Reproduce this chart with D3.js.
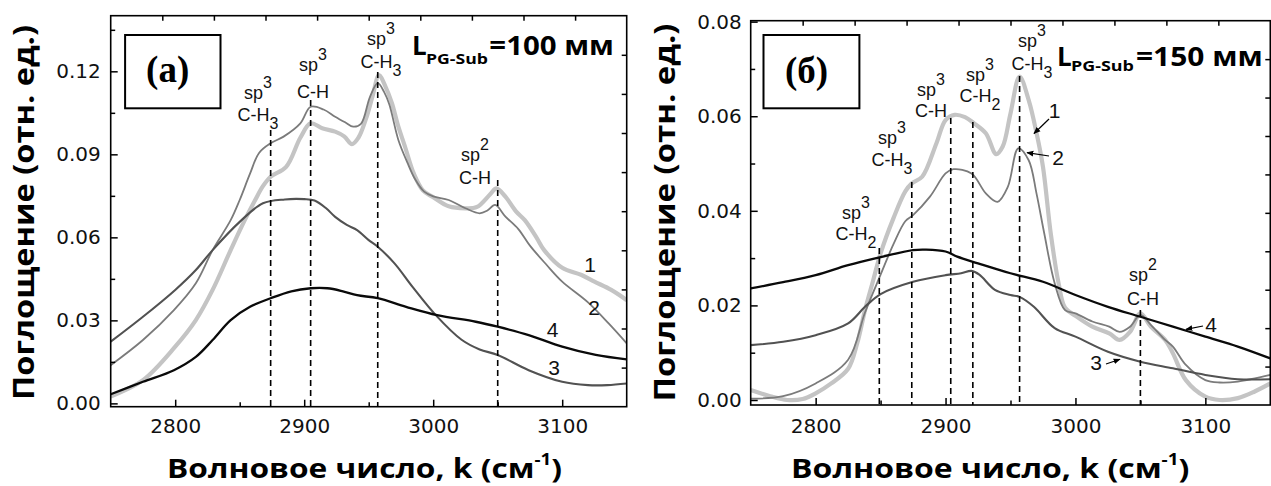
<!DOCTYPE html>
<html>
<head>
<meta charset="utf-8">
<script src="https://cdn.jsdelivr.net/npm/d3@7"></script>
<style>
  body { margin: 0; background: #fff; }
  svg { display: block; }
</style>
</head>
<body>
<svg id="chart" width="1271" height="486"></svg>
<script>
// ---- axis ticks ----
const kTicks = [2800, 2900, 3000, 3100];
const kMinorTicks = [2850, 2950, 3050];
const absTicksA = [0, 0.03, 0.06, 0.09, 0.12];
const absMinorA = [0.015, 0.045, 0.075, 0.105, 0.135];
const absTicksB = [0, 0.02, 0.04, 0.06, 0.08];
const absMinorB = [0.01, 0.03, 0.05, 0.07];

// ---- panel (a): L(PG-Sub) = 100 mm ----
const aK1 = [2750, 2775, 2800, 2816, 2829, 2843, 2854, 2862, 2868, 2874, 2886, 2897, 2905, 2914, 2924, 2931, 2937, 2942, 2948, 2953, 2958, 2963, 2968, 2973, 2978, 2985, 2992, 3000, 3012, 3025, 3034, 3044, 3049, 3056, 3064, 3071, 3080, 3086, 3100, 3115, 3125, 3138, 3150];
const aA1 = [0.0025, 0.0084, 0.0205, 0.0301, 0.041, 0.0554, 0.0663, 0.0735, 0.0785, 0.0819, 0.0855, 0.096, 0.1012, 0.0994, 0.0982, 0.0965, 0.0937, 0.096, 0.103, 0.111, 0.1186, 0.1145, 0.1085, 0.100, 0.093, 0.083, 0.077, 0.0745, 0.0712, 0.0705, 0.071, 0.0755, 0.0777, 0.0747, 0.0695, 0.0662, 0.060, 0.0554, 0.049, 0.0464, 0.044, 0.041, 0.0373];
const aK2 = [2750, 2775, 2799, 2816, 2829, 2843, 2850, 2858, 2865, 2874, 2884, 2897, 2905, 2915, 2924, 2932, 2938, 2944, 2951, 2957, 2962, 2966, 2973, 2980, 2986, 2993, 3000, 3012, 3025, 3036, 3042, 3048, 3056, 3066, 3075, 3088, 3100, 3120, 3136, 3150];
const aA2 = [0.0138, 0.0229, 0.0337, 0.0434, 0.0554, 0.0662, 0.0735, 0.083, 0.0905, 0.094, 0.0964, 0.1012, 0.1072, 0.1062, 0.1036, 0.1015, 0.1, 0.101, 0.1108, 0.1157, 0.1125, 0.108, 0.0952, 0.087, 0.081, 0.0765, 0.0748, 0.0735, 0.0705, 0.0687, 0.0697, 0.0717, 0.0675, 0.063, 0.057, 0.05, 0.044, 0.0365, 0.0289, 0.0217];
const aK3 = [2750, 2775, 2800, 2816, 2829, 2850, 2868, 2885, 2900, 2908, 2917, 2924, 2933, 2941, 2950, 2957, 2970, 2984, 3002, 3022, 3036, 3050, 3074, 3100, 3120, 3135, 3150];
const aA3 = [0.0223, 0.0313, 0.041, 0.0482, 0.0554, 0.0656, 0.0723, 0.0737, 0.0738, 0.0733, 0.0705, 0.0674, 0.0645, 0.0626, 0.059, 0.0566, 0.0506, 0.0421, 0.0319, 0.023, 0.0195, 0.0175, 0.012, 0.0078, 0.0066, 0.0066, 0.0072];
const aK4 = [2750, 2775, 2799, 2816, 2829, 2843, 2858, 2874, 2890, 2905, 2918, 2930, 2941, 2957, 2979, 3003, 3033, 3050, 3074, 3100, 3126, 3150];
const aA4 = [0.0033, 0.0078, 0.012, 0.0168, 0.0229, 0.0301, 0.0349, 0.038, 0.0405, 0.0416, 0.0416, 0.0405, 0.0391, 0.038, 0.0349, 0.0319, 0.0295, 0.0277, 0.0247, 0.0205, 0.0175, 0.0159];

// band assignments (a)
const aPeaks = [2874, 2905, 2957, 3050];
const aHybrid = ["3", "3", "3", "2"];
const aGroupSub = ["3", "", "3", ""];

// ---- panel (б): L(PG-Sub) = 150 mm ----
const bK1 = [2750, 2765, 2778, 2790, 2800, 2812, 2825, 2832, 2838, 2844, 2850, 2860, 2869, 2874, 2882, 2893, 2900, 2907, 2915, 2922, 2931, 2939, 2944, 2950, 2957, 2964, 2970, 2975, 2981, 2987, 2992, 3000, 3013, 3026, 3034, 3042, 3050, 3058, 3069, 3075, 3085, 3100, 3111, 3125, 3138, 3150];
const bA1 = [0.0021, 0.0008, 0.0, 0.0002, 0.0014, 0.0035, 0.0066, 0.012, 0.019, 0.025, 0.031, 0.0385, 0.0441, 0.0458, 0.0472, 0.0543, 0.0592, 0.0603, 0.0598, 0.0585, 0.0564, 0.052, 0.0536, 0.0606, 0.0684, 0.0634, 0.0565, 0.0493, 0.0352, 0.0247, 0.0195, 0.0178, 0.0155, 0.0141, 0.0127, 0.0144, 0.0183, 0.0155, 0.0127, 0.0099, 0.0042, 0.0007, 0.0, 0.0004, 0.0018, 0.0035];
const bK2 = [2750, 2775, 2800, 2825, 2838, 2850, 2860, 2869, 2875, 2888, 2900, 2906, 2920, 2931, 2940, 2948, 2956, 2964, 2970, 2976, 2984, 2992, 3000, 3013, 3026, 3034, 3042, 3050, 3058, 3069, 3075, 3085, 3100, 3111, 3125, 3150];
const bA2 = [0.0003, 0.0008, 0.0035, 0.0085, 0.0185, 0.0265, 0.033, 0.0378, 0.0391, 0.043, 0.0479, 0.0488, 0.0479, 0.0437, 0.0419, 0.0451, 0.0532, 0.0507, 0.0437, 0.0352, 0.0247, 0.019, 0.0183, 0.0166, 0.0155, 0.0144, 0.0155, 0.018, 0.0159, 0.0127, 0.0113, 0.0074, 0.0042, 0.0037, 0.0039, 0.0053];
const bK3 = [2750, 2775, 2800, 2825, 2838, 2850, 2875, 2900, 2912, 2920, 2926, 2938, 2950, 2957, 2968, 2984, 3000, 3025, 3050, 3075, 3100, 3125, 3150];
const bA3 = [0.0116, 0.0123, 0.0137, 0.0162, 0.0197, 0.0224, 0.025, 0.0264, 0.0268, 0.0273, 0.0265, 0.0233, 0.0222, 0.0218, 0.0197, 0.0152, 0.0134, 0.0102, 0.0081, 0.0067, 0.0053, 0.0044, 0.0044];
const bK4 = [2750, 2775, 2800, 2825, 2850, 2875, 2885, 2900, 2909, 2925, 2950, 2975, 3000, 3025, 3050, 3075, 3100, 3125, 3150];
const bA4 = [0.0236, 0.0249, 0.0264, 0.0285, 0.0302, 0.0317, 0.0318, 0.0314, 0.0303, 0.0289, 0.0268, 0.025, 0.0222, 0.0197, 0.0176, 0.0155, 0.0134, 0.0113, 0.0088];

// band assignments (б)
const bPeaks = [2849, 2874, 2904, 2921, 2957, 3050];
const bHybrid = ["3", "3", "3", "3", "3", "2"];
const bGroupSub = ["2", "3", "", "2", "3", ""];

const curveNames = ["1", "2", "3", "4"];

// ---- styling / layout ----
const seriesStyle = [
  { color: "#c4c4c4", width: 4.2 },
  { color: "#7b7b7b", width: 1.8 },
  { color: "#525252", width: 2.1 },
  { color: "#0a0a0a", width: 2.3 }
];

const panels = [
  {
    left: 110.7, top: 15.7, width: 516, height: 391, yDomain: [-0.0012, 0.1401],
    yTicks: absTicksA, yMinor: absMinorA, yFmt: d3.format(".2f"),
    series: [[aK1, aA1], [aK2, aA2], [aK3, aA3], [aK4, aA4]],
    peaks: aPeaks, hybrid: aHybrid, groupSub: aGroupSub,
    labelPos: [
      { x: 258, sp: 99, ch: 121, top: 130 },
      { x: 313, sp: 71, ch: 98, top: 100 },
      { x: 381, sp: 45, ch: 68, top: 72 },
      { x: 475, sp: 161, ch: 184, top: 180 }
    ],
    numPos: [
      { x: 590, y: 271.5 }, { x: 594, y: 315 }, { x: 554, y: 375 }, { x: 552.6, y: 336.7 }
    ],
    arrows: null,
    box: { x: 125.1, y: 35, w: 95.4, h: 73.3, tx: 167.7, ty: 82, label: "(a)" },
    lab: { L: 412, base: 55, subX: 426, subW: 62, subBase: 64, eqX: 489.3, eqW: 124.7, eq: "=100 мм" },
    xTitle: { x0: 167, x1: 562, base: 478 },
    yTitle: { x: 34, yc: 212.5, len: 375 },
    xPad: 12, yPad: 10
  },
  {
    left: 750.7, top: 20.7, width: 519.6, height: 384.3, yDomain: [-0.00106, 0.0802],
    yTicks: absTicksB, yMinor: absMinorB, yFmt: d3.format(".2f"),
    series: [[bK1, bA1], [bK2, bA2], [bK3, bA3], [bK4, bA4]],
    peaks: bPeaks, hybrid: bHybrid, groupSub: bGroupSub,
    labelPos: [
      { x: 856, sp: 219, ch: 240, top: 248 },
      { x: 892, sp: 144, ch: 166, top: 182 },
      { x: 931, sp: 96, ch: 117, top: 118 },
      { x: 980, sp: 81, ch: 102, top: 122 },
      { x: 1032, sp: 47, ch: 70, top: 76 },
      { x: 1143, sp: 281, ch: 305, top: 310 }
    ],
    numPos: [
      { x: 1054.5, y: 118 }, { x: 1058, y: 165 }, { x: 1096, y: 370 }, { x: 1211, y: 331.7 }
    ],
    arrows: [
      [1049, 119, 1034, 133.5],
      [1049, 156, 1027, 152.7],
      [1106, 364, 1120, 359.3],
      [1203, 326, 1186, 329.3]
    ],
    box: { x: 763.5, y: 35, w: 95.9, h: 73.3, tx: 806.6, ty: 83, label: "(б)" },
    lab: { L: 1057, base: 65.5, subX: 1071, subW: 63, subBase: 71, eqX: 1136, eqW: 126.7, eq: "=150 мм" },
    xTitle: { x0: 791, x1: 1189.5, base: 478 },
    yTitle: { x: 675, yc: 212.5, len: 378 },
    xPad: 14, yPad: 9
  }
];

const svg = d3.select("#chart");
const defs = svg.append("defs");
defs.append("marker")
  .attr("id", "arrowHead")
  .attr("viewBox", "0 0 10 10")
  .attr("refX", 9).attr("refY", 5)
  .attr("markerWidth", 7).attr("markerHeight", 7)
  .attr("markerUnits", "userSpaceOnUse")
  .attr("orient", "auto")
  .append("path").attr("d", "M0,1 L10,5 L0,9 Z").attr("fill", "#000");

const SANS = "'Liberation Sans', Arial, sans-serif";
const WIDE = "'DejaVu Sans', sans-serif";
const BOLD = "'Open Sans', 'DejaVu Sans', sans-serif";

// squeeze/stretch a text element horizontally so it spans the target width
function fitText(sel, tx, ty, target, rotate) {
  const w = sel.node().getBBox().width;
  const s = target / w;
  sel.attr("transform", `translate(${tx},${ty})` + (rotate ? " rotate(-90)" : "") + ` scale(${s},1)`);
}

panels.forEach((p, pi) => {
  const g = svg.append("g");
  const x = d3.scaleLinear().domain([2750, 3150]).range([p.left, p.left + p.width]);
  const y = d3.scaleLinear().domain(p.yDomain).range([p.top + p.height, p.top]);
  const bottom = p.top + p.height, right = p.left + p.width;

  const clipId = "clip" + pi;
  defs.append("clipPath").attr("id", clipId)
    .append("rect").attr("x", p.left).attr("y", p.top).attr("width", p.width).attr("height", p.height);

  // spectra
  const line = d3.line().x(d => x(d[0])).y(d => y(d[1])).curve(d3.curveCatmullRom.alpha(0.5));
  const plot = g.append("g").attr("clip-path", `url(#${clipId})`);
  p.series.forEach((s, i) => {
    plot.append("path")
      .datum(d3.zip(s[0], s[1]))
      .attr("fill", "none")
      .attr("stroke", seriesStyle[i].color)
      .attr("stroke-width", seriesStyle[i].width)
      .attr("stroke-linejoin", "round")
      .attr("d", line);
  });

  // dashed band markers
  p.peaks.forEach((k, i) => {
    g.append("line")
      .attr("x1", x(k)).attr("x2", x(k))
      .attr("y1", p.labelPos[i].top).attr("y2", bottom)
      .attr("stroke", "#000").attr("stroke-width", 1.6)
      .attr("stroke-dasharray", "6,4");
  });

  // band labels
  p.peaks.forEach((k, i) => {
    const lp = p.labelPos[i];
    const t1 = g.append("text").attr("x", lp.x).attr("y", lp.sp)
      .attr("text-anchor", "middle").attr("font-family", SANS).attr("font-size", 18).attr("fill", "#111");
    t1.append("tspan").text("sp");
    t1.append("tspan").attr("dy", -11).attr("font-size", 16).text(p.hybrid[i]);
    const t2 = g.append("text").attr("x", lp.x).attr("y", lp.ch)
      .attr("text-anchor", "middle").attr("font-family", SANS).attr("font-size", 18).attr("fill", "#111");
    t2.append("tspan").text("C-H");
    if (p.groupSub[i]) t2.append("tspan").attr("dy", 8).attr("font-size", 16).text(p.groupSub[i]);
  });

  // frame
  g.append("rect").attr("x", p.left).attr("y", p.top).attr("width", p.width).attr("height", p.height)
    .attr("fill", "none").attr("stroke", "#000").attr("stroke-width", 1.6);

  // bottom axis
  const xAxis = d3.axisBottom(x).tickValues(kTicks).tickSizeInner(-7).tickSizeOuter(0)
    .tickPadding(p.xPad).tickFormat(d3.format("d"));
  const gx = g.append("g").attr("transform", `translate(0,${bottom})`).call(xAxis);
  g.append("g").attr("transform", `translate(0,${bottom})`)
    .call(d3.axisBottom(x).tickValues(kMinorTicks).tickSizeInner(-4.5).tickSizeOuter(0).tickFormat(""));

  // left axis
  const yAxis = d3.axisLeft(y).tickValues(p.yTicks).tickSizeInner(-7).tickSizeOuter(0)
    .tickPadding(p.yPad).tickFormat(p.yFmt);
  const gy = g.append("g").attr("transform", `translate(${p.left},0)`).call(yAxis);
  g.append("g").attr("transform", `translate(${p.left},0)`)
    .call(d3.axisLeft(y).tickValues(p.yMinor).tickSizeInner(-4.5).tickSizeOuter(0).tickFormat(""));

  // mirrored top/right axes, ten equal divisions
  const xt = d3.scaleLinear().domain([0, 10]).range([p.left, right]);
  const yr = d3.scaleLinear().domain([0, 10]).range([bottom, p.top]);
  g.append("g").attr("transform", `translate(0,${p.top})`)
    .call(d3.axisTop(xt).tickValues(d3.range(1, 10)).tickSizeInner(-5).tickSizeOuter(0).tickFormat(""));
  g.append("g").attr("transform", `translate(${right},0)`)
    .call(d3.axisRight(yr).tickValues(d3.range(1, 10)).tickSizeInner(-5).tickSizeOuter(0).tickFormat(""));

  g.selectAll(".domain").attr("stroke", "none");
  g.selectAll(".tick line").attr("stroke", "#000").attr("stroke-width", 1.5);
  [gx, gy].forEach(ax => ax.selectAll("text")
    .attr("font-family", WIDE).attr("font-size", 20).attr("fill", "#111"));

  // curve numbers
  p.numPos.forEach((np, i) => {
    g.append("text").attr("x", np.x).attr("y", np.y).attr("text-anchor", "middle")
      .attr("font-family", SANS).attr("font-size", 21).attr("fill", "#111").text(curveNames[i]);
  });
  if (p.arrows) {
    p.arrows.forEach(a => {
      g.append("line").attr("x1", a[0]).attr("y1", a[1]).attr("x2", a[2]).attr("y2", a[3])
        .attr("stroke", "#000").attr("stroke-width", 1.2).attr("marker-end", "url(#arrowHead)");
    });
  }

  // panel tag
  g.append("rect").attr("x", p.box.x).attr("y", p.box.y).attr("width", p.box.w).attr("height", p.box.h)
    .attr("fill", "#fff").attr("stroke", "#000").attr("stroke-width", 2);
  g.append("text").attr("x", p.box.tx).attr("y", p.box.ty).attr("text-anchor", "middle")
    .attr("font-family", "'Liberation Serif', 'Times New Roman', serif").attr("font-weight", "bold")
    .attr("font-size", 37).attr("fill", "#000").text(p.box.label);

  // L(PG-Sub) caption
  g.append("text").attr("x", p.lab.L).attr("y", p.lab.base)
    .attr("font-family", BOLD).attr("font-weight", "bold").attr("font-size", 26).text("L");
  const sub = g.append("text").attr("font-family", BOLD).attr("font-weight", "bold")
    .attr("font-size", 15).text("PG-Sub");
  fitText(sub, p.lab.subX, p.lab.subBase, p.lab.subW);
  const eq = g.append("text").attr("font-family", BOLD).attr("font-weight", "bold")
    .attr("font-size", 26).text(p.lab.eq);
  fitText(eq, p.lab.eqX, p.lab.base, p.lab.eqW);

  // axis titles
  const xt1 = g.append("text").attr("text-anchor", "middle").attr("font-family", BOLD)
    .attr("font-weight", "bold").attr("font-size", 27).attr("fill", "#000");
  xt1.append("tspan").text("Волновое число, k (см");
  xt1.append("tspan").attr("dy", -13).attr("font-size", 16).text("-1");
  xt1.append("tspan").attr("dy", 13).text(")");
  fitText(xt1, (p.xTitle.x0 + p.xTitle.x1) / 2, p.xTitle.base, p.xTitle.x1 - p.xTitle.x0);

  const yt = g.append("text").attr("text-anchor", "middle").attr("font-family", BOLD)
    .attr("font-weight", "bold").attr("font-size", 29).attr("fill", "#000")
    .text("Поглощение (отн. ед.)");
  fitText(yt, p.yTitle.x, p.yTitle.yc, p.yTitle.len, true);
});
</script>
</body>
</html>
